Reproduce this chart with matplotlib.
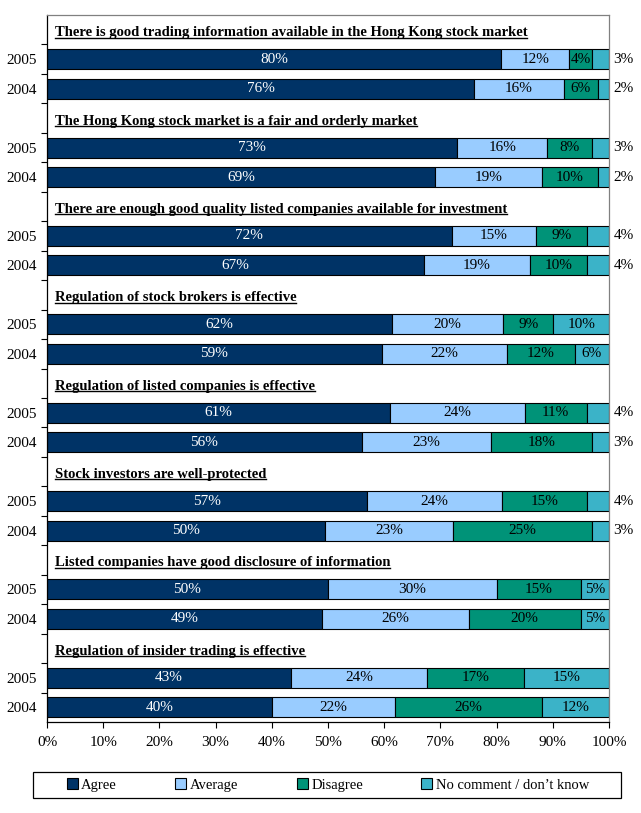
import numpy as np
import matplotlib.pyplot as plt
from matplotlib.patches import Patch, Rectangle

plt.rcParams['font.family'] = ['Liberation Serif', 'DejaVu Serif']

statements = [
    "There is good trading information available in the Hong Kong stock market",
    "The Hong Kong stock market is a fair and orderly market",
    "There are enough good quality listed companies available for investment",
    "Regulation of stock brokers is effective",
    "Regulation of listed companies is effective",
    "Stock investors are well-protected",
    "Listed companies have good disclosure of information",
    "Regulation of insider trading is effective",
]
years = ["2005", "2004"]
categories = ["Agree", "Average", "Disagree", "No comment / don\u2019t know"]

agree_2005 = [80, 73, 72, 62, 61, 57, 50, 43]
average_2005 = [12, 16, 15, 20, 24, 24, 30, 24]
disagree_2005 = [4, 8, 9, 9, 11, 15, 15, 17]
nocomment_2005 = [3, 3, 4, 10, 4, 4, 5, 15]

agree_2004 = [76, 69, 67, 59, 56, 50, 49, 40]
average_2004 = [16, 19, 19, 22, 23, 23, 26, 22]
disagree_2004 = [6, 10, 10, 12, 18, 25, 20, 26]
nocomment_2004 = [2, 2, 4, 6, 3, 3, 5, 12]

colors = ['#003366', '#99CCFF', '#009378', '#3BB3C8']
text_colors = ['white', 'black', 'black', 'black']

data = {
    "2005": np.array([agree_2005, average_2005, disagree_2005, nocomment_2005], dtype=float),
    "2004": np.array([agree_2004, average_2004, disagree_2004, nocomment_2004], dtype=float),
}

fig = plt.figure(figsize=(6.41, 8.13), dpi=100)
ax = fig.add_axes([47 / 641, 1 - 722 / 813, 562 / 641, 707 / 813])

n_rows = 3 * len(statements)
bar_h = 0.68
num_fs = 11
ytick_pos = []
ytick_lab = []
title_texts = []

for g, stmt in enumerate(statements):
    for j, yr in enumerate(years):
        row = 3 * g + 1 + j
        vals = data[yr][:, g]
        pct = vals / vals.sum() * 100
        left = 0.0
        for k in range(4):
            ax.barh(row, pct[k], left=left, height=bar_h, color=colors[k],
                    edgecolor='black', linewidth=0.8)
            label = f"{int(vals[k])}%"
            if k == 3 and vals[k] <= 4:
                ax.text(100.8, row, label, ha='left', va='center', fontsize=num_fs,
                        color='black', clip_on=False)
            else:
                ax.text(left + pct[k] / 2, row, label, ha='center', va='center',
                        fontsize=num_fs, color=text_colors[k])
            left += pct[k]
        ytick_pos.append(row)
        ytick_lab.append(yr)

    t = ax.text(1.4, 3 * g + 0.1, stmt, ha='left', va='center', fontsize=10.5,
                fontweight='bold')
    title_texts.append(t)

ax.set_xlim(0, 100)
ax.set_ylim(n_rows - 0.5, -0.5)
ax.set_xticks(np.arange(0, 101, 10))
ax.set_xticklabels([f"{v}%" for v in range(0, 101, 10)], fontsize=num_fs)
ax.set_yticks(ytick_pos)
ax.set_yticklabels(ytick_lab, fontsize=num_fs)
ax.tick_params(axis='y', which='major', length=0, pad=7)
ax.set_yticks(np.arange(0.5, n_rows - 0.5, 1.0), minor=True)
ax.tick_params(axis='y', which='minor', length=4, direction='out', width=0.8)
ax.tick_params(axis='x', length=4, direction='out', width=0.8, pad=6)

for s in ['left', 'bottom']:
    ax.spines[s].set_color('black')
    ax.spines[s].set_linewidth(0.9)
for s in ['top', 'right']:
    ax.spines[s].set_color('#808080')
    ax.spines[s].set_linewidth(0.9)

# underline the statement titles
fig.canvas.draw()
renderer = fig.canvas.get_renderer()
inv = fig.transFigure.inverted()
for txt in title_texts:
    bb = txt.get_window_extent(renderer)
    (x0, y0), (x1, y1) = inv.transform([[bb.x0, bb.y0], [bb.x1, bb.y1]])
    fig.add_artist(plt.Line2D([x0, x1], [y0 + 0.002, y0 + 0.002],
                              transform=fig.transFigure, color='black',
                              linewidth=1.0))

# legend box
fig.add_artist(Rectangle((33 / 641, 1 - 798 / 813), 588 / 641, 26 / 813,
                         transform=fig.transFigure, facecolor='white',
                         edgecolor='black', linewidth=0.9))
handles = [Patch(facecolor=c, edgecolor='black', linewidth=0.8) for c in colors]
fig.legend(handles, categories, loc='center', ncol=4,
           bbox_to_anchor=(328 / 641, 1 - 785 / 813),
           fontsize=10.5, frameon=False,
           handlelength=0.75, handleheight=0.75, handletextpad=0.25,
           columnspacing=4.0, borderaxespad=0.0)

fig.savefig("out.png", dpi=100, facecolor='white')
